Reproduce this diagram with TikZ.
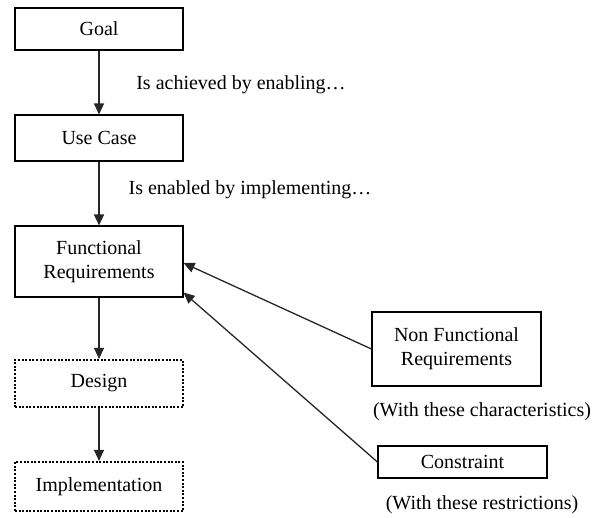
\documentclass[tikz,border=0pt]{standalone}
\usepackage{fontspec}
\setmainfont{Liberation Serif}
\usetikzlibrary{arrows.meta}
\begin{document}
\begin{tikzpicture}[x=1pt,y=-1pt,
  txt/.style={font=\fontsize{20}{24}\selectfont, inner sep=1pt},
  box/.style={txt, draw, line width=1.1pt, minimum width=168pt, align=center, inner sep=0pt},
  dotbox/.style={box, line width=2.2pt, dash pattern=on 2pt off 1.6pt},
  conn/.style={-{Triangle[length=11pt,width=10pt]}, line width=1.3pt, draw=black!85}]
\useasboundingbox (0,0) rectangle (592,517);
\node[box, minimum height=42pt] (goal) at (99,29) {Goal};
\node[box, minimum height=46pt] (uc) at (99,138) {Use Case};
\node[box, minimum height=71pt] (fr) at (99,261.5) {Functional\\Requirements};
\node[dotbox, minimum height=47pt] (des) at (99,383.5) {Design};
\node[dotbox, minimum height=49pt] (imp) at (99,486.5) {Implementation};
\node[box, minimum width=169pt, minimum height=74pt] (nfr) at (456.5,349) {Non Functional\\Requirements};
\node[box, minimum width=169pt, minimum height=32pt] (con) at (462.5,462) {Constraint};
\node[txt] (l1) at (241,85) {Is achieved by enabling…};
\node[txt] (l2) at (250,190) {Is enabled by implementing…};
\node[txt] (l3) at (482,412) {(With these characteristics)};
\node[txt] (l4) at (482,505) {(With these restrictions)};
\draw[conn] (goal) -- (uc);
\draw[conn] (uc) -- (fr);
\draw[conn] (fr) -- (des);
\draw[conn] (des) -- (imp);
\draw[conn] (nfr.west) -- ([yshift=-1.5pt]fr.east);
\draw[conn] (con.west) -- ([yshift=5pt]fr.south east);
\end{tikzpicture}
\end{document}
